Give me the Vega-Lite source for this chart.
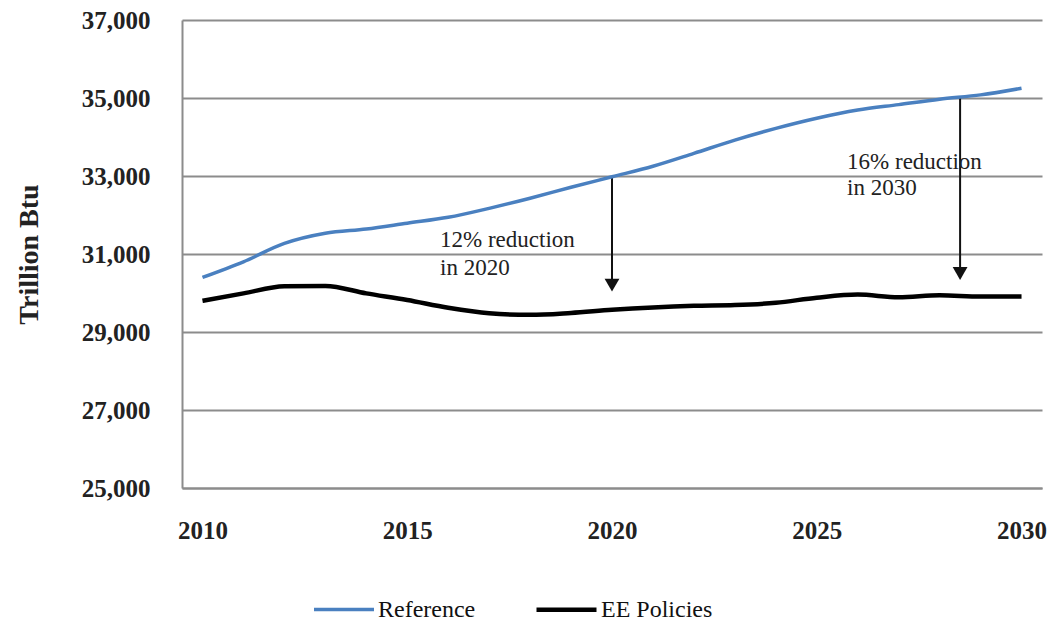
{
  "$schema": "https://vega.github.io/schema/vega-lite/v6.json",
  "width": 860,
  "height": 468,
  "autosize": {"type": "none"},
  "padding": {"left": 182, "top": 20, "right": 19, "bottom": 135},
  "background": "white",
  "config": {
    "view": {"stroke": null},
    "font": "Liberation Serif"
  },
  "datasets": {
    "series": [
      {"year": 2010, "series": "Reference", "value": 30400},
      {"year": 2011, "series": "Reference", "value": 30800},
      {"year": 2012, "series": "Reference", "value": 31270},
      {"year": 2013, "series": "Reference", "value": 31530},
      {"year": 2014, "series": "Reference", "value": 31640},
      {"year": 2015, "series": "Reference", "value": 31790},
      {"year": 2016, "series": "Reference", "value": 31940},
      {"year": 2017, "series": "Reference", "value": 32170},
      {"year": 2018, "series": "Reference", "value": 32430},
      {"year": 2019, "series": "Reference", "value": 32710},
      {"year": 2020, "series": "Reference", "value": 32980},
      {"year": 2021, "series": "Reference", "value": 33250},
      {"year": 2022, "series": "Reference", "value": 33580},
      {"year": 2023, "series": "Reference", "value": 33920},
      {"year": 2024, "series": "Reference", "value": 34220},
      {"year": 2025, "series": "Reference", "value": 34480},
      {"year": 2026, "series": "Reference", "value": 34690},
      {"year": 2027, "series": "Reference", "value": 34830},
      {"year": 2028, "series": "Reference", "value": 34970},
      {"year": 2029, "series": "Reference", "value": 35080},
      {"year": 2030, "series": "Reference", "value": 35250},
      {"year": 2010, "series": "EE Policies", "value": 29800},
      {"year": 2011, "series": "EE Policies", "value": 29990},
      {"year": 2012, "series": "EE Policies", "value": 30170},
      {"year": 2013, "series": "EE Policies", "value": 30180},
      {"year": 2014, "series": "EE Policies", "value": 29990},
      {"year": 2015, "series": "EE Policies", "value": 29820},
      {"year": 2016, "series": "EE Policies", "value": 29620},
      {"year": 2017, "series": "EE Policies", "value": 29480},
      {"year": 2018, "series": "EE Policies", "value": 29440},
      {"year": 2019, "series": "EE Policies", "value": 29490},
      {"year": 2020, "series": "EE Policies", "value": 29570},
      {"year": 2021, "series": "EE Policies", "value": 29630},
      {"year": 2022, "series": "EE Policies", "value": 29670},
      {"year": 2023, "series": "EE Policies", "value": 29690},
      {"year": 2024, "series": "EE Policies", "value": 29750},
      {"year": 2025, "series": "EE Policies", "value": 29880},
      {"year": 2026, "series": "EE Policies", "value": 29960},
      {"year": 2027, "series": "EE Policies", "value": 29890},
      {"year": 2028, "series": "EE Policies", "value": 29940},
      {"year": 2029, "series": "EE Policies", "value": 29910},
      {"year": 2030, "series": "EE Policies", "value": 29910}
    ],
    "arrows": [
      {"year": 2020, "from": 33000, "to": 30300, "head": 30200},
      {"year": 2028.5, "from": 35000, "to": 30600, "head": 30500}
    ],
    "notes": [
      {"year": 2015.8, "value": 31360, "label": "12% reduction"},
      {"year": 2015.8, "value": 30640, "label": "in 2020"},
      {"year": 2025.74, "value": 33370, "label": "16% reduction"},
      {"year": 2025.74, "value": 32680, "label": "in 2030"}
    ]
  },
  "layer": [
    {
      "data": {"name": "arrows"},
      "mark": {"type": "rule", "color": "#111111", "strokeWidth": 2},
      "encoding": {
        "x": {"field": "year", "type": "quantitative"},
        "y": {"field": "from", "type": "quantitative"},
        "y2": {"field": "to"}
      }
    },
    {
      "data": {"name": "arrows"},
      "mark": {"type": "point", "shape": "triangle-down", "filled": true, "color": "#111111", "size": 220, "opacity": 1},
      "encoding": {
        "x": {"field": "year", "type": "quantitative"},
        "y": {"field": "head", "type": "quantitative"}
      }
    },
    {
      "data": {"name": "notes"},
      "mark": {"type": "text", "align": "left", "baseline": "middle", "font": "Liberation Serif", "fontSize": 23, "color": "#222222"},
      "encoding": {
        "x": {"field": "year", "type": "quantitative"},
        "y": {"field": "value", "type": "quantitative"},
        "text": {"field": "label"}
      }
    },
    {
      "data": {"name": "series"},
      "mark": {"type": "line", "interpolate": "monotone"},
      "encoding": {
        "x": {
          "field": "year",
          "type": "quantitative",
          "scale": {"domain": [2009.5, 2030.5], "nice": false, "zero": false},
          "axis": {
            "title": null,
            "values": [2010, 2015, 2020, 2025, 2030],
            "format": "d",
            "grid": false,
            "ticks": false,
            "domainColor": "#8c8c8c",
            "domainWidth": 2,
            "labelFont": "Liberation Serif",
            "labelFontWeight": "bold",
            "labelFontSize": 25,
            "labelColor": "#222222",
            "labelPadding": 30
          }
        },
        "y": {
          "field": "value",
          "type": "quantitative",
          "scale": {"domain": [25000, 37000], "nice": false, "zero": false},
          "axis": {
            "title": "Trillion Btu",
            "values": [25000, 27000, 29000, 31000, 33000, 35000, 37000],
            "format": ",d",
            "grid": true,
            "gridColor": "#8c8c8c",
            "gridWidth": 2,
            "ticks": false,
            "domainColor": "#8c8c8c",
            "domainWidth": 2,
            "labelFont": "Liberation Serif",
            "labelFontWeight": "bold",
            "labelFontSize": 25,
            "labelColor": "#222222",
            "labelPadding": 32,
            "titleFont": "Liberation Serif",
            "titleFontWeight": "bold",
            "titleFontSize": 28,
            "titleColor": "#222222",
            "titlePadding": 38
          }
        },
        "color": {
          "field": "series",
          "type": "nominal",
          "scale": {"domain": ["Reference", "EE Policies"], "range": ["#4a80c0", "#000000"]},
          "legend": {
            "title": null,
            "orient": "none",
            "direction": "horizontal",
            "legendX": 130,
            "legendY": 557,
            "symbolType": "stroke",
            "symbolSize": 3600,
            "symbolStrokeWidth": 4,
            "labelFont": "Liberation Serif",
            "labelFontSize": 24,
            "labelColor": "#111111",
            "labelOffset": 2,
            "columnPadding": 51
          }
        },
        "strokeWidth": {
          "field": "series",
          "type": "nominal",
          "scale": {"domain": ["Reference", "EE Policies"], "range": [3.5, 4.5]},
          "legend": null
        }
      }
    }
  ]
}
